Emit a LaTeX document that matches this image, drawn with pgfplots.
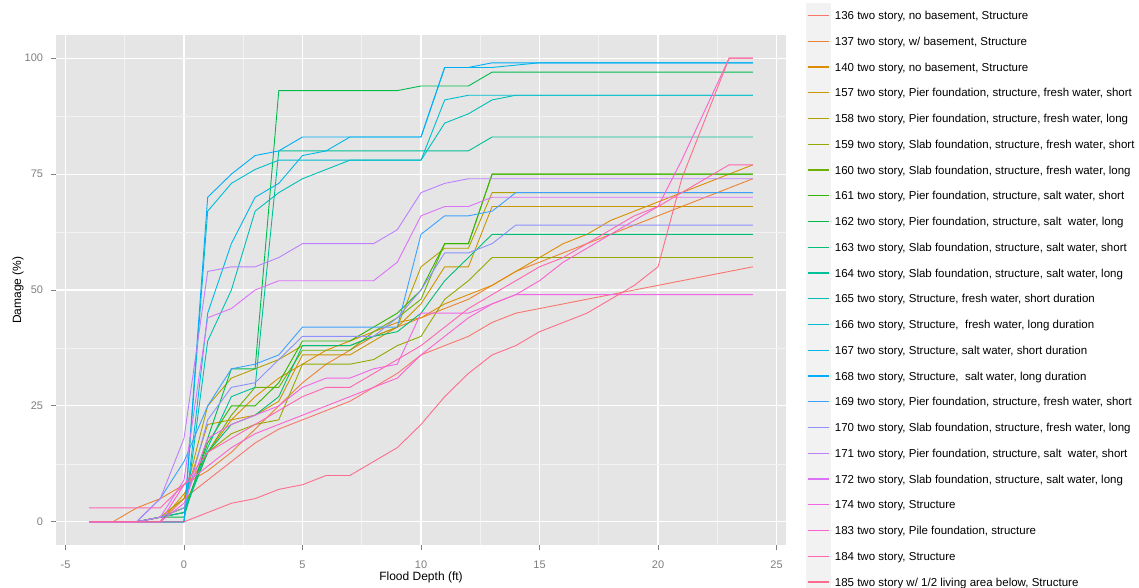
\documentclass[border=0pt]{standalone}
\usepackage{fontspec}
\setmainfont{Liberation Sans}
\usepackage{pgfplots}
\usepackage{pgfplotstable}
\pgfplotsset{compat=1.18}

\definecolor{panelbg}{HTML}{E5E5E5}
\definecolor{gridminor}{HTML}{F2F2F2}
\definecolor{tickgrey}{HTML}{7F7F7F}
\definecolor{keybg}{HTML}{F2F2F2}
\definecolor{c136}{HTML}{F8766D}
\definecolor{c137}{HTML}{EB8335}
\definecolor{c140}{HTML}{DC8D00}
\definecolor{c157}{HTML}{C99600}
\definecolor{c158}{HTML}{B2A000}
\definecolor{c159}{HTML}{95A800}
\definecolor{c160}{HTML}{6DB000}
\definecolor{c161}{HTML}{2FB600}
\definecolor{c162}{HTML}{00BB4B}
\definecolor{c163}{HTML}{00BE75}
\definecolor{c164}{HTML}{00C097}
\definecolor{c165}{HTML}{00C0B6}
\definecolor{c166}{HTML}{00BDD0}
\definecolor{c167}{HTML}{00B7E7}
\definecolor{c168}{HTML}{00ADF9}
\definecolor{c169}{HTML}{3DA1FF}
\definecolor{c170}{HTML}{8C91FF}
\definecolor{c171}{HTML}{BC80FF}
\definecolor{c172}{HTML}{DC71FA}
\definecolor{c174}{HTML}{F265E7}
\definecolor{c183}{HTML}{FC62CF}
\definecolor{c184}{HTML}{FF65B1}
\definecolor{c185}{HTML}{FE6D8C}

% damage (%) by flood depth (ft), one column per curve
\pgfplotstableread{
x  a136 a137 a140 a157 a158 a159 a160 a161 a162 a163 a164 a165 a166 a167 a168 a169 a170 a171 a172 a174 a183 a184 a185
-4 0  0  0  0  0  0  0  0  0  0  0  0  0  0  0  0  0  0  0  0  0  3  0
-3 0  0  0  0  0  0  0  0  0  0  0  0  0  0  0  0  0  0  0  0  0  3  0
-2 0  3  0  0  0  0  0  0  0  0  0  0  0  0  0  0  0  0  0  0  0  3  0
-1 0  5  0  1  1  1  1  1  1  1  1  0  0  0  0  5  1  5  1  0  0  3  0
0  5  8  6  5  5  3  3  2  1  2  2  0  0  0  0  13 3  18 9  4  8  8  0
1  9  11 15 21 25 15 15 17 18 15 16 39 67 45 70 25 22 54 44 18 12 15 2
2  13 15 22 22 31 19 23 25 33 21 27 50 73 60 75 33 29 55 46 21 16 18 4
3  17 20 27 23 33 21 29 25 33 23 29 67 76 70 79 34 30 55 50 23 19 21 5
4  20 25 31 26 35 22 29 30 93 27 80 71 78 73 80 36 35 57 52 25 21 24 7
5  22 30 34 36 38 34 37 39 93 38 80 74 78 79 83 42 40 60 52 29 23 27 8
6  24 34 37 36 38 34 37 39 93 38 80 76 78 80 83 42 40 60 52 31 25 29 10
7  26 37 39 36 38 34 37 39 93 38 80 78 78 83 83 42 40 60 52 31 27 29 10
8  29 40 41 39 40 35 41 42 93 40 80 78 78 83 83 42 40 60 52 33 29 32 13
9  32 42 43 42 42 38 44 45 93 41 80 78 78 83 83 42 44 63 56 34 31 35 16
10 36 44 44 47 55 40 48 50 94 45 80 78 78 83 83 62 50 71 66 45 36 38 21
11 38 46 47 55 59 48 60 60 94 52 80 86 91 98 98 66 58 73 68 45 40 42 27
12 40 48 49 55 59 52 60 60 94 57 80 88 92 98 98 66 58 74 68 45 44 46 32
13 43 51 51 68 71 57 75 75 97 62 83 91 92 98 99 67 60 74 70 47 47 49 36
14 45 54 54 68 71 57 75 75 97 62 83 92 92 98.5 99 71 64 74 70 49 49 52 38
15 46 56 57 68 71 57 75 75 97 62 83 92 92 99 99 71 64 74 70 49 52 55 41
16 47 58 60 68 71 57 75 75 97 62 83 92 92 99 99 71 64 74 70 49 56 57 43
17 48 60 62 68 71 57 75 75 97 62 83 92 92 99 99 71 64 74 70 49 59 60 45
18 49 62 65 68 71 57 75 75 97 62 83 92 92 99 99 71 64 74 70 49 62 63 48
19 50 64 67 68 71 57 75 75 97 62 83 92 92 99 99 71 64 74 70 49 65 66 51
20 51 66 69 68 71 57 75 75 97 62 83 92 92 99 99 71 64 74 70 49 68 68 55
21 52 68 71 68 71 57 75 75 97 62 83 92 92 99 99 71 64 74 70 49 78 71 74
22 53 70 73 68 71 57 75 75 97 62 83 92 92 99 99 71 64 74 70 49 89 74 87
23 54 72 75 68 71 57 75 75 97 62 83 92 92 99 99 71 64 74 70 49 100 77 100
24 55 74 77 68 71 57 75 75 97 62 83 92 92 99 99 71 64 74 70 49 100 77 100
}\damage

\begin{document}
\begin{tikzpicture}
\begin{axis}[
  at={(56pt,42pt)}, anchor=south west,
  scale only axis, width=730pt, height=510pt,
  xmin=-5.4, xmax=25.4, ymin=-5, ymax=105,
  xtick={-5,0,5,10,15,20,25},
  ytick={0,25,50,75,100},
  minor xtick={-2.5,2.5,7.5,12.5,17.5,22.5},
  minor ytick={12.5,37.5,62.5,87.5},
  grid=both,
  major grid style={white, line width=1.1pt},
  minor grid style={gridminor, line width=0.55pt},
  axis background/.style={fill=panelbg},
  axis line style={draw=none},
  tick align=outside, xtick pos=bottom, ytick pos=left,
  major tick length=4.5pt, minor tick length=0pt,
  tick style={tickgrey, line width=0.9pt},
  /pgf/number format/assume math mode=true,
  ticklabel style={font=\fontsize{11}{13}\selectfont, text=tickgrey},
  xticklabel style={anchor=center, inner sep=0pt, yshift=-15pt},
  yticklabel style={anchor=east, inner sep=0pt, xshift=-8.3pt},
  xlabel={Flood Depth (ft)}, ylabel={Damage (\%)},
  label style={font=\fontsize{12}{14}\selectfont},
  xlabel style={at={(axis description cs:0.5,-0.0627)}, anchor=center},
  ylabel style={at={(axis description cs:-0.0521,0.5)}, anchor=center, rotate=0},
  every axis plot/.append style={line width=0.9pt},
  legend cell align=left,
  legend image code/.code={
    \fill[keybg] (0pt,-12.3pt) rectangle (24pt,12.3pt);
    \draw[#1, line width=1.4pt] (1.5pt,0pt) -- (22.5pt,0pt);
  },
  legend style={at={(1.0274,1.0633)}, anchor=north west, draw=none, fill=none,
    inner sep=0pt, outer sep=0pt, row sep=0.25pt, column sep=4pt,
    nodes={inner sep=0pt, text depth=0pt},
    font=\fontsize{11.5}{13}\selectfont},
]
\addplot[c136] table[x=x, y=a136]{\damage};
\addlegendentry{136 two story, no basement, Structure}
\addplot[c137] table[x=x, y=a137]{\damage};
\addlegendentry{137 two story, w/ basement, Structure}
\addplot[c140] table[x=x, y=a140]{\damage};
\addlegendentry{140 two story, no basement, Structure}
\addplot[c157] table[x=x, y=a157]{\damage};
\addlegendentry{157 two story, Pier foundation, structure, fresh water, short}
\addplot[c158] table[x=x, y=a158]{\damage};
\addlegendentry{158 two story, Pier foundation, structure, fresh water, long}
\addplot[c159] table[x=x, y=a159]{\damage};
\addlegendentry{159 two story, Slab foundation, structure, fresh water, short}
\addplot[c160] table[x=x, y=a160]{\damage};
\addlegendentry{160 two story, Slab foundation, structure, fresh water, long}
\addplot[c161] table[x=x, y=a161]{\damage};
\addlegendentry{161 two story, Pier foundation, structure, salt water, short}
\addplot[c162] table[x=x, y=a162]{\damage};
\addlegendentry{162 two story, Pier foundation, structure, salt\ \ water, long}
\addplot[c163] table[x=x, y=a163]{\damage};
\addlegendentry{163 two story, Slab foundation, structure, salt water, short}
\addplot[c164] table[x=x, y=a164]{\damage};
\addlegendentry{164 two story, Slab foundation, structure, salt water, long}
\addplot[c165] table[x=x, y=a165]{\damage};
\addlegendentry{165 two story, Structure, fresh water, short duration}
\addplot[c166] table[x=x, y=a166]{\damage};
\addlegendentry{166 two story, Structure,\ \ fresh water, long duration}
\addplot[c167] table[x=x, y=a167]{\damage};
\addlegendentry{167 two story, Structure, salt water, short duration}
\addplot[c168] table[x=x, y=a168]{\damage};
\addlegendentry{168 two story, Structure,\ \ salt water, long duration}
\addplot[c169] table[x=x, y=a169]{\damage};
\addlegendentry{169 two story, Pier foundation, structure, fresh water, short}
\addplot[c170] table[x=x, y=a170]{\damage};
\addlegendentry{170 two story, Slab foundation, structure, fresh water, long}
\addplot[c171] table[x=x, y=a171]{\damage};
\addlegendentry{171 two story, Pier foundation, structure, salt\ \ water, short}
\addplot[c172] table[x=x, y=a172]{\damage};
\addlegendentry{172 two story, Slab foundation, structure, salt water, long}
\addplot[c174] table[x=x, y=a174]{\damage};
\addlegendentry{174 two story, Structure}
\addplot[c183] table[x=x, y=a183]{\damage};
\addlegendentry{183 two story, Pile foundation, structure}
\addplot[c184] table[x=x, y=a184]{\damage};
\addlegendentry{184 two story, Structure}
\addplot[c185] table[x=x, y=a185]{\damage};
\addlegendentry{185 two story w/ 1/2 living area below, Structure}
\end{axis}
\pgfresetboundingbox
\useasboundingbox (0pt,0pt) rectangle (1139pt,587pt);
\end{tikzpicture}
\end{document}
